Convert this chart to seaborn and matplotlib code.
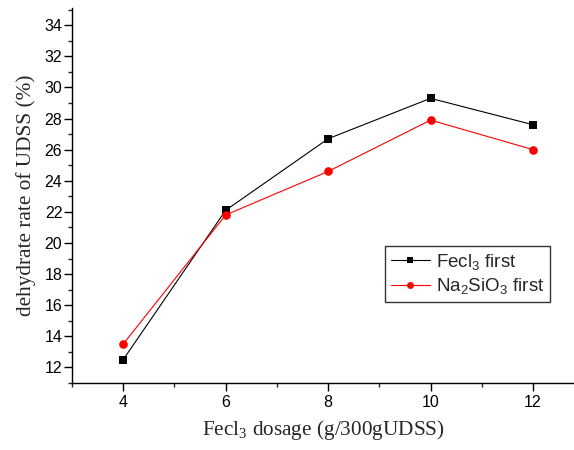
import matplotlib
matplotlib.use("Agg")
import matplotlib.pyplot as plt
import seaborn as sns
import pandas as pd
from matplotlib.ticker import MultipleLocator

dosage = [4, 6, 8, 10, 12]
fecl3_first = [12.5, 22.1, 26.7, 29.3, 27.6]
na2sio3_first = [13.5, 21.8, 24.6, 27.9, 26.0]
series_names = ["Fecl$_3$ first", "Na$_2$SiO$_3$ first"]

df = pd.DataFrame({
    "dosage": dosage * 2,
    "rate": fecl3_first + na2sio3_first,
    "series": [series_names[0]] * len(dosage) + [series_names[1]] * len(dosage),
})

sns.set_style("ticks")
plt.rcParams["font.family"] = ["Liberation Sans", "DejaVu Sans"]
plt.rcParams["mathtext.default"] = "regular"

fig = plt.figure(figsize=(5.74, 4.5), dpi=100)
ax = fig.add_axes([0.1254, 0.149, 0.8746, 0.833])

sns.lineplot(data=df, x="dosage", y="rate", hue="series", style="series",
             palette={series_names[0]: "black", series_names[1]: "red"},
             markers={series_names[0]: "s", series_names[1]: "o"},
             dashes=False, linewidth=0.8, markersize=6.2, markeredgewidth=0,
             ax=ax)

ax.set_xlim(3, 12.8)
ax.set_ylim(11, 35.1)
ax.xaxis.set_major_locator(MultipleLocator(2))
ax.xaxis.set_minor_locator(MultipleLocator(1))
ax.set_yticks(range(12, 35, 2))
ax.yaxis.set_minor_locator(MultipleLocator(1))
ax.tick_params(which="major", direction="out", length=5.5, width=1, pad=1.5,
               labelsize=11.5, colors="black")
ax.tick_params(which="minor", direction="out", length=3, width=1)
ax.tick_params(axis="x", which="major", pad=3)
for s in ["top", "right"]:
    ax.spines[s].set_visible(False)
for s in ["left", "bottom"]:
    ax.spines[s].set_linewidth(1.0)
    ax.spines[s].set_color("black")

ax.set_xlabel("Fecl$_3$ dosage (g/300gUDSS)", family="Liberation Serif", fontsize=15.3, labelpad=6)
ax.set_ylabel("dehydrate rate of UDSS (%)", family="Liberation Serif", fontsize=15.3, labelpad=6)

leg = ax.legend(loc="upper left", bbox_to_anchor=(385 / 574, 1 - 246 / 450),
                bbox_transform=fig.transFigure, fontsize=13.5, frameon=True,
                fancybox=False, edgecolor="black", handlelength=2.1,
                handletextpad=0.3, borderpad=0.3, labelspacing=0.25,
                borderaxespad=0)
leg.get_frame().set_linewidth(1.0)
for line in leg.get_lines():
    line.set_linewidth(0.8)
    line.set_markersize(5)

fig.savefig("out.png", dpi=100)
